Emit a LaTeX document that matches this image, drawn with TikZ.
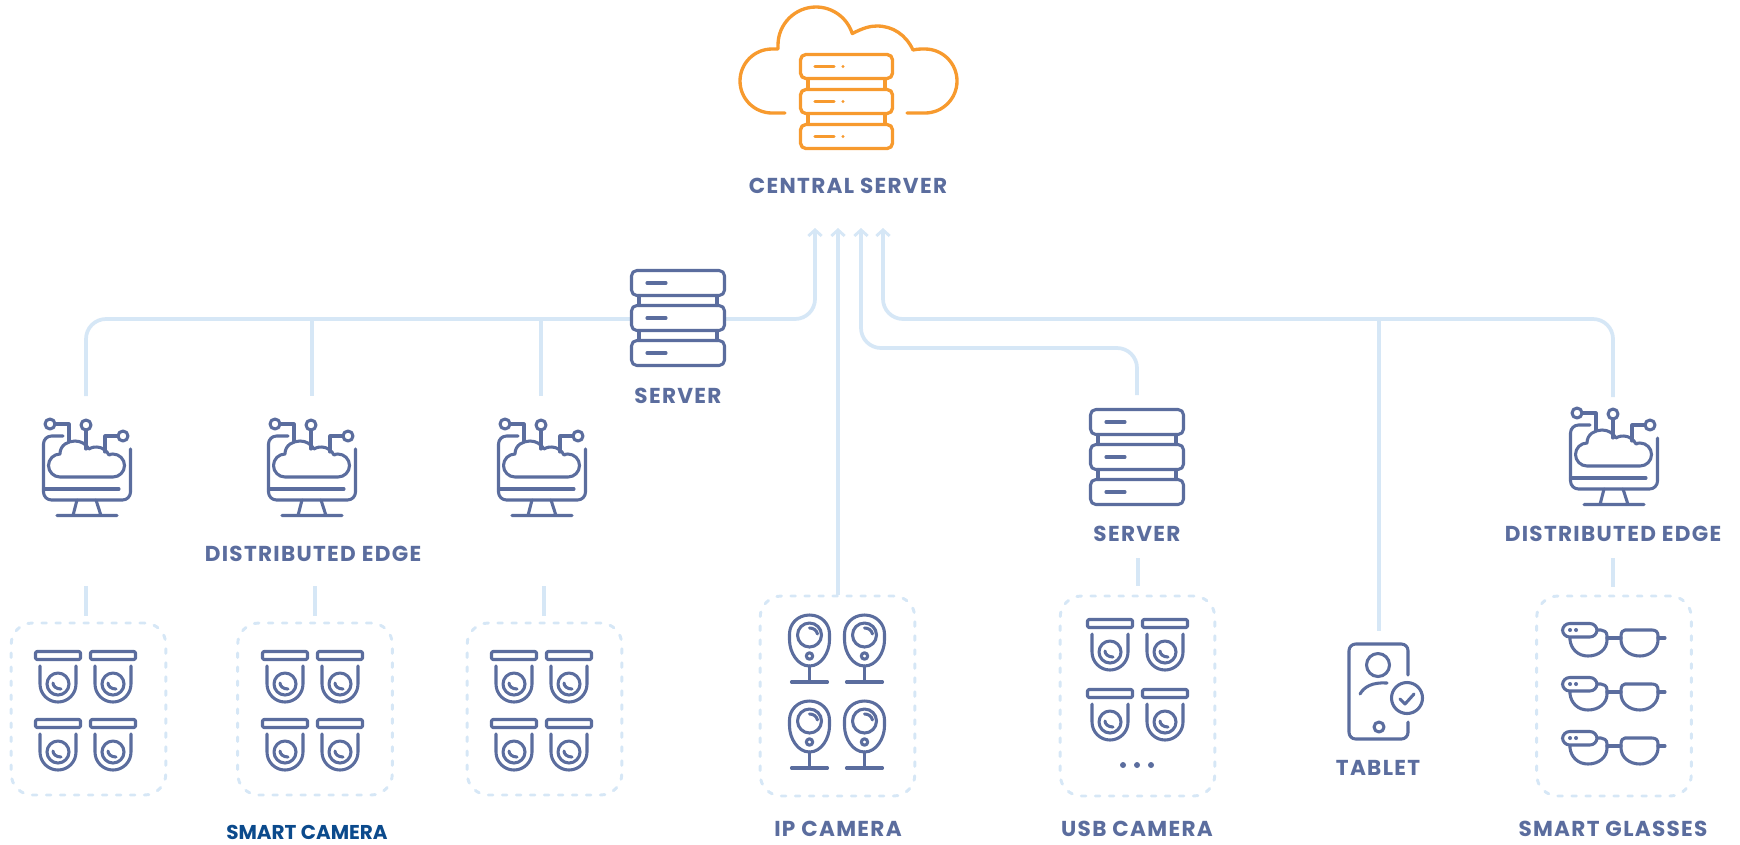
\documentclass[tikz,border=0pt]{standalone}
\usepackage{fontspec}
\setmainfont{Poppins}
\usetikzlibrary{arrows.meta}
\definecolor{ink}{HTML}{5B6D9E}
\definecolor{hot}{HTML}{F79A2E}
\definecolor{pale}{HTML}{D6E7F6}
\definecolor{deep}{HTML}{0B4A8C}
\tikzset{
  iconline/.style={draw=ink,line width=2.3pt,line cap=round,line join=round},
  hotline/.style={draw=hot,line width=2.5pt,line cap=round,line join=round},
  link/.style={draw=pale,line width=2.8pt},
  rlink/.style={link,rounded corners=15pt},
  uplink/.style={-{Straight Barb[length=4.5pt,width=10pt,line width=2.2pt]}},
  dashbox/.style={draw=pale,line width=2.2pt,line cap=round,dash pattern=on 3.5pt off 7pt,rounded corners=16pt,inner sep=0pt,minimum width=116pt},
  lbl/.style={font=\bfseries\fontsize{16.2pt}{19pt}\selectfont\addfontfeature{LetterSpace=6},text=ink,inner sep=0pt},
  lblblue/.style={font=\bfseries\fontsize{15pt}{18pt}\selectfont,text=deep,inner sep=0pt},
  srv/.pic={
    \foreach \t in {0,35,70}{
      \draw[iconline,fill=white,rounded corners=4pt] (-46.5,\t+1.5) rectangle (46.5,\t+26.5);
      \draw[iconline] (-31,\t+14) -- (-12,\t+14);
    }
    \foreach \t in {26.5,61.5}{
      \draw[iconline] (-39,\t) -- (-39,\t+10) (39,\t) -- (39,\t+10);
    }
  },
  edgeicon/.pic={
    \draw[iconline,rounded corners=6pt] (63,436) -- (43.5,436) -- (43.5,500) -- (130.5,500) -- (130.5,449);
    \draw[iconline] (43.5,489) -- (119,489);
    \draw[iconline] (77,500) -- (73,515.5) (96,500) -- (101,515.5) (57,515.5) -- (117,515.5);
    \draw[iconline] (60,477) arc[start angle=90,end angle=270,radius=11.5]
      .. controls (60,445) and (68,441) .. (75,441)
      .. controls (81,441) and (86,444) .. (89,449)
      .. controls (92,447) and (95,447) .. (97,447)
      .. controls (102,447) and (107,451) .. (109,455)
      .. controls (111,454) and (112,454) .. (113,454)
      arc[start angle=270,end angle=450,radius=11.5] -- cycle;
    \draw[iconline] (50,424) circle[radius=5] (86,425) circle[radius=5] (123,436) circle[radius=5];
    \draw[iconline] (55,424) -- (69,424) -- (69,442) (86,430) -- (86,449) (118,436) -- (105,436) -- (105,452);
  },
  cam/.pic={
    \draw[iconline,rounded corners=1pt] (1.5,1.5) rectangle (46.5,9.5);
    \draw[iconline] (6,16) -- (6,34) arc[start angle=180,end angle=0,radius=18] -- (42,16);
  },
  camlens/.pic={
    \draw[iconline] (24,34) circle[radius=11];
    \draw[iconline] (19,33) .. controls (19,36) and (22,39) .. (27,39);
  },
  ipcam/.pic={
    \draw[iconline] (0,-17) .. controls (12,-17) and (20,-8) .. (20,2) -- (20,8) .. controls (20,20) and (12,34) .. (0,34) .. controls (-12,34) and (-20,20) .. (-20,8) -- (-20,2) .. controls (-20,-8) and (-12,-17) .. (0,-17) -- cycle;
    \draw[iconline] (0,3) circle[radius=12];
    \draw[iconline] (0,24) circle[radius=3.2];
    \draw[iconline] (0,-4) .. controls (4,-4) and (7,-2) .. (8,2);
    \draw[iconline] (0,34) -- (0,50) (-18,50) -- (18,50);
  },
  glass/.pic={
    \draw[iconline] (1570,637) -- (1570,640) .. controls (1571,649) and (1578,656) .. (1588,656) .. controls (1599,656) and (1607,649) .. (1607,640) -- (1607,636) .. controls (1607,632) and (1604,630) .. (1601,630) -- (1597,630);
    \draw[iconline] (1625,630) -- (1652,630) .. controls (1656,630) and (1658,632) .. (1658,636) -- (1658,640) .. controls (1658,649) and (1650,656) .. (1640,656) .. controls (1629,656) and (1621,649) .. (1621,640) -- (1621,636) .. controls (1621,632) and (1623,630) .. (1625,630) -- cycle;
    \draw[iconline] (1607,638) -- (1621,638) (1658,638) -- (1665,638);
    \draw[iconline,fill=white,rounded corners=5.4pt] (1562.5,623.5) rectangle (1597,637);
    \fill[ink] (1570,630) circle[radius=2] (1576,630) circle[radius=2];
  }
}
\begin{document}
\begin{tikzpicture}[x=0.75pt,y=-0.75pt]
\useasboundingbox (0,0) rectangle (1740,844);
% anchors
\coordinate (tipA) at (815,228);
\coordinate (tipB) at (838,228);
\coordinate (tipC) at (861,228);
\coordinate (tipD) at (883,228);
\coordinate (edgeAtop) at (86,396);
\coordinate (edgeBtop) at (312,396);
\coordinate (edgeCtop) at (541,396);
\coordinate (edgeDtop) at (1613,397);
\coordinate (busB) at (312,319);
\coordinate (busC) at (541,319);
\coordinate (busT) at (1379,319);
\coordinate (serverRtop) at (1137,395);
\coordinate (ipTop) at (838,595);
\coordinate (tabletTop) at (1379,631);
\coordinate (edgeAlow) at (86,586);  \coordinate (boxAtop) at (86,616);
\coordinate (edgeBlow) at (315,586); \coordinate (boxBtop) at (315,616);
\coordinate (edgeClow) at (544,586); \coordinate (boxCtop) at (544,616);
\coordinate (serverRlow) at (1138,558); \coordinate (boxEtop) at (1138,586);
\coordinate (edgeDlow) at (1613,558);   \coordinate (boxFtop) at (1613,587);
% connectors
\draw[rlink,uplink] (edgeAtop) |- (busC) -- (815,319) -- (tipA);
\draw[link] (busB) -- (edgeBtop);
\draw[link] (busC) -- (edgeCtop);
\draw[link,uplink] (ipTop) -- (tipB);
\draw[rlink,uplink] (serverRtop) |- (861,348) -- (tipC);
\draw[rlink,uplink] (edgeDtop) |- (883,319) -- (tipD);
\draw[link] (busT) -- (tabletTop);
\draw[link] (edgeAlow) -- (boxAtop);
\draw[link] (edgeBlow) -- (boxBtop);
\draw[link] (edgeClow) -- (boxCtop);
\draw[link] (serverRlow) -- (boxEtop);
\draw[link] (edgeDlow) -- (boxFtop);
% dashed boxes
\node[dashbox,minimum height=129pt] (boxA) at (88.5,709) {};
\node[dashbox,minimum height=129pt] (boxB) at (315,709) {};
\node[dashbox,minimum height=129pt] (boxC) at (544.5,709) {};
\node[dashbox,minimum height=150pt] (boxD) at (837.5,696) {};
\node[dashbox,minimum height=150pt] (boxE) at (1137.5,696) {};
\node[dashbox,minimum height=150pt] (boxF) at (1614,696) {};
% central server
\draw[hotline] (785,113) -- (772,113) arc[start angle=90,end angle=270,radius=32] -- (778,49) -- (778,45)
  arc[start angle=180,end angle=342.5,radius=38]
  .. controls (863,28) and (870,26) .. (877,26)
  .. controls (893,26) and (906,35) .. (913,50)
  .. controls (917,49) and (921,49) .. (925,49)
  arc[start angle=270,end angle=450,radius=32] -- (907,113);
\foreach \t in {80,115}{
  \draw[hotline] (808,\t) -- (808,\t+9) (885,\t) -- (885,\t+9);
}
\foreach \t in {53,88,123}{
  \draw[hotline,rounded corners=4pt] (800.5,\t+1.5) rectangle (892.5,\t+25.5);
  \draw[hotline] (815,\t+13.5) -- (834,\t+13.5);
  \fill[hot] (843,\t+13.5) circle[radius=1.6];
}
% servers
\pic at (678,269) {srv};
\pic at (1137,408) {srv};
% edge icons
\pic at (0,0) {edgeicon};
\pic at (225,0) {edgeicon};
\pic at (455,0) {edgeicon};
\pic at (1527,-11) {edgeicon};
% cameras
\foreach \ox/\oy/\ry in {34/650/68,261/650/68,490/650/68,1086/618/70}{
  \foreach \dx in {0,55}{
    \foreach \dy in {0,1}{
      \pic at (\ox+\dx,\oy+\dy*\ry) {cam};
      \pic at (\ox+\dx,\oy+\dy*\ry) {camlens};
    }
  }
}
\fill[ink] (1123,765) circle[radius=3] (1137,765) circle[radius=3] (1151,765) circle[radius=3];
% ip cameras
\foreach \cx in {809.5,864.5}{
  \foreach \cy in {632,718}{
    \pic at (\cx,\cy) {ipcam};
  }
}
% glasses
\pic at (0,0) {glass};
\pic at (0,54) {glass};
\pic at (0,108) {glass};
% tablet
\draw[iconline,rounded corners=5pt] (1408,675) -- (1408,644) -- (1349,644) -- (1349,739) -- (1408,739) -- (1408,722);
\draw[iconline] (1378,665) circle[radius=11.5];
\draw[iconline] (1360,694) .. controls (1364,687) and (1372,682) .. (1387,683);
\draw[iconline] (1407,698) circle[radius=15.5];
\draw[iconline] (1400,699) -- (1405,704) -- (1414,694);
\draw[iconline] (1379,727) circle[radius=5];
% labels
\node[lbl] (lblCentral) at (848,186) {CENTRAL SERVER};
\node[lbl] (lblServerL) at (678,396) {SERVER};
\node[lbl] (lblServerR) at (1137,534) {SERVER};
\node[lbl] (lblEdgeL) at (313,554) {DISTRIBUTED EDGE};
\node[lbl] (lblEdgeR) at (1613,534) {DISTRIBUTED EDGE};
\node[lblblue] (lblSmart) at (307,832) {SMART CAMERA};
\node[lbl] (lblIP) at (838,829) {IP CAMERA};
\node[lbl] (lblUSB) at (1137,829) {USB CAMERA};
\node[lbl] (lblTablet) at (1378,768) {TABLET};
\node[lbl] (lblGlasses) at (1613,829) {SMART GLASSES};
\end{tikzpicture}
\end{document}
